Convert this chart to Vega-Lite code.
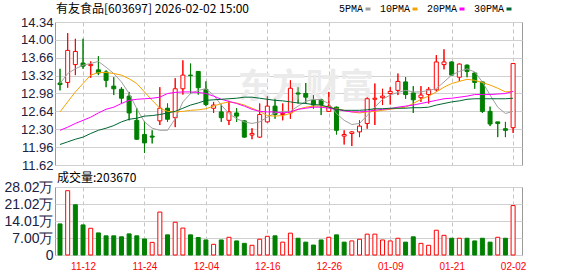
{
  "$schema": "https://vega.github.io/schema/vega-lite/v6.json",
  "autosize": {"type": "none"},
  "padding": {"left": 55, "top": 22, "right": 523, "bottom": 254},
  "background": "white",
  "data": {"values": [
    {"d":"2025-11-07","o":13.18,"h":13.45,"l":13.04,"c":13.15,"k":"down","v":128000,"vk":"down","ma5":13.17,"ma10":12.63,"ma20":12.28,"ma30":12.01},
    {"d":"2025-11-10","o":13.19,"h":14.13,"l":13.09,"c":13.80,"k":"up","v":265000,"vk":"up","ma5":13.36,"ma10":12.82,"ma20":12.34,"ma30":12.06},
    {"d":"2025-11-11","o":13.53,"h":14.02,"l":13.33,"c":13.78,"k":"up","v":207000,"vk":"down","ma5":13.45,"ma10":13.01,"ma20":12.41,"ma30":12.11},
    {"d":"2025-11-12","o":13.56,"h":14.02,"l":13.45,"c":13.50,"k":"down","v":124000,"vk":"down","ma5":13.52,"ma10":13.17,"ma20":12.47,"ma30":12.15},
    {"d":"2025-11-13","o":13.51,"h":13.59,"l":13.28,"c":13.53,"k":"up","v":110000,"vk":"up","ma5":13.55,"ma10":13.33,"ma20":12.53,"ma30":12.22},
    {"d":"2025-11-14","o":13.43,"h":13.69,"l":13.33,"c":13.37,"k":"down","v":91000,"vk":"down","ma5":13.59,"ma10":13.38,"ma20":12.61,"ma30":12.28},
    {"d":"2025-11-17","o":13.39,"h":13.42,"l":13.10,"c":13.23,"k":"down","v":79000,"vk":"down","ma5":13.48,"ma10":13.38,"ma20":12.68,"ma30":12.32},
    {"d":"2025-11-18","o":13.12,"h":13.29,"l":12.95,"c":13.07,"k":"down","v":79000,"vk":"down","ma5":13.36,"ma10":13.36,"ma20":12.72,"ma30":12.37},
    {"d":"2025-11-19","o":13.06,"h":13.10,"l":12.79,"c":12.89,"k":"down","v":75000,"vk":"down","ma5":13.20,"ma10":13.33,"ma20":12.79,"ma30":12.44},
    {"d":"2025-11-20","o":12.93,"h":13.01,"l":12.47,"c":12.61,"k":"down","v":87000,"vk":"down","ma5":12.98,"ma10":13.26,"ma20":12.85,"ma30":12.49},
    {"d":"2025-11-21","o":12.47,"h":12.70,"l":12.10,"c":12.11,"k":"down","v":79000,"vk":"down","ma5":12.69,"ma10":13.17,"ma20":12.87,"ma30":12.51},
    {"d":"2025-11-24","o":12.20,"h":12.45,"l":11.85,"c":12.04,"k":"down","v":66000,"vk":"down","ma5":12.44,"ma10":13.01,"ma20":12.88,"ma30":12.55},
    {"d":"2025-11-25","o":12.17,"h":12.28,"l":12.03,"c":12.15,"k":"down","v":52000,"vk":"up","ma5":12.32,"ma10":12.85,"ma20":12.89,"ma30":12.56},
    {"d":"2025-11-26","o":12.46,"h":13.10,"l":12.38,"c":12.70,"k":"up","v":177000,"vk":"up","ma5":12.28,"ma10":12.70,"ma20":12.91,"ma30":12.58},
    {"d":"2025-11-27","o":12.70,"h":12.79,"l":12.44,"c":12.49,"k":"down","v":83000,"vk":"down","ma5":12.28,"ma10":12.64,"ma20":12.98,"ma30":12.61},
    {"d":"2025-11-28","o":12.52,"h":13.27,"l":12.34,"c":13.07,"k":"up","v":135000,"vk":"up","ma5":12.50,"ma10":12.63,"ma20":13.00,"ma30":12.64},
    {"d":"2025-12-01","o":13.07,"h":13.61,"l":12.96,"c":13.33,"k":"up","v":111000,"vk":"up","ma5":12.82,"ma10":12.64,"ma20":13.01,"ma30":12.70},
    {"d":"2025-12-02","o":13.33,"h":13.55,"l":12.98,"c":13.32,"k":"down","v":83000,"vk":"down","ma5":12.98,"ma10":12.66,"ma20":13.01,"ma30":12.76},
    {"d":"2025-12-03","o":13.40,"h":13.40,"l":12.96,"c":13.09,"k":"down","v":72000,"vk":"down","ma5":13.04,"ma10":12.67,"ma20":13.00,"ma30":12.80},
    {"d":"2025-12-04","o":13.06,"h":13.21,"l":12.74,"c":12.77,"k":"down","v":62000,"vk":"down","ma5":13.07,"ma10":12.69,"ma20":12.98,"ma30":12.85},
    {"d":"2025-12-05","o":12.70,"h":12.82,"l":12.61,"c":12.76,"k":"up","v":44000,"vk":"up","ma5":12.95,"ma10":12.74,"ma20":12.93,"ma30":12.86},
    {"d":"2025-12-08","o":12.63,"h":12.77,"l":12.44,"c":12.52,"k":"down","v":62000,"vk":"down","ma5":12.76,"ma10":12.79,"ma20":12.87,"ma30":12.87},
    {"d":"2025-12-09","o":12.47,"h":12.84,"l":12.38,"c":12.63,"k":"up","v":73000,"vk":"up","ma5":12.60,"ma10":12.82,"ma20":12.83,"ma30":12.88},
    {"d":"2025-12-10","o":12.61,"h":12.70,"l":12.44,"c":12.55,"k":"down","v":58000,"vk":"down","ma5":12.50,"ma10":12.80,"ma20":12.79,"ma30":12.89},
    {"d":"2025-12-11","o":12.46,"h":12.47,"l":12.14,"c":12.15,"k":"down","v":48000,"vk":"down","ma5":12.44,"ma10":12.76,"ma20":12.74,"ma30":12.91},
    {"d":"2025-12-12","o":12.19,"h":12.32,"l":12.11,"c":12.22,"k":"up","v":40000,"vk":"up","ma5":12.41,"ma10":12.70,"ma20":12.68,"ma30":12.91},
    {"d":"2025-12-15","o":12.15,"h":12.79,"l":12.14,"c":12.58,"k":"up","v":65000,"vk":"up","ma5":12.44,"ma10":12.64,"ma20":12.64,"ma30":12.89},
    {"d":"2025-12-16","o":12.44,"h":12.93,"l":12.43,"c":12.74,"k":"up","v":77000,"vk":"up","ma5":12.53,"ma10":12.56,"ma20":12.63,"ma30":12.87},
    {"d":"2025-12-17","o":12.74,"h":12.88,"l":12.50,"c":12.58,"k":"down","v":79000,"vk":"down","ma5":12.61,"ma10":12.55,"ma20":12.63,"ma30":12.85},
    {"d":"2025-12-18","o":12.58,"h":12.79,"l":12.47,"c":12.60,"k":"up","v":53000,"vk":"up","ma5":12.64,"ma10":12.56,"ma20":12.61,"ma30":12.84},
    {"d":"2025-12-19","o":12.61,"h":13.23,"l":12.50,"c":13.08,"k":"up","v":90000,"vk":"up","ma5":12.64,"ma10":12.60,"ma20":12.63,"ma30":12.82},
    {"d":"2025-12-22","o":12.99,"h":13.10,"l":12.79,"c":12.97,"k":"down","v":69000,"vk":"down","ma5":12.74,"ma10":12.68,"ma20":12.68,"ma30":12.80},
    {"d":"2025-12-23","o":12.98,"h":13.18,"l":12.79,"c":12.91,"k":"down","v":53000,"vk":"down","ma5":12.83,"ma10":12.72,"ma20":12.70,"ma30":12.79},
    {"d":"2025-12-24","o":12.85,"h":12.95,"l":12.69,"c":12.76,"k":"down","v":41000,"vk":"down","ma5":12.87,"ma10":12.74,"ma20":12.72,"ma30":12.77},
    {"d":"2025-12-25","o":12.86,"h":12.88,"l":12.57,"c":12.77,"k":"down","v":62000,"vk":"down","ma5":12.86,"ma10":12.74,"ma20":12.72,"ma30":12.76},
    {"d":"2025-12-26","o":12.64,"h":13.01,"l":12.63,"c":12.74,"k":"up","v":73000,"vk":"up","ma5":12.79,"ma10":12.72,"ma20":12.70,"ma30":12.72},
    {"d":"2025-12-29","o":12.72,"h":12.73,"l":12.20,"c":12.28,"k":"down","v":83000,"vk":"down","ma5":12.60,"ma10":12.69,"ma20":12.68,"ma30":12.68},
    {"d":"2025-12-30","o":12.17,"h":12.28,"l":12.01,"c":12.20,"k":"up","v":53000,"vk":"down","ma5":12.47,"ma10":12.66,"ma20":12.65,"ma30":12.66},
    {"d":"2025-12-31","o":12.22,"h":12.26,"l":11.98,"c":12.25,"k":"up","v":58000,"vk":"up","ma5":12.39,"ma10":12.63,"ma20":12.63,"ma30":12.66},
    {"d":"2026-01-05","o":12.25,"h":12.47,"l":12.15,"c":12.36,"k":"up","v":65000,"vk":"up","ma5":12.41,"ma10":12.61,"ma20":12.63,"ma30":12.66},
    {"d":"2026-01-06","o":12.41,"h":12.91,"l":12.31,"c":12.88,"k":"up","v":86000,"vk":"up","ma5":12.56,"ma10":12.63,"ma20":12.64,"ma30":12.67},
    {"d":"2026-01-07","o":12.87,"h":13.17,"l":12.38,"c":12.89,"k":"up","v":86000,"vk":"up","ma5":12.72,"ma10":12.64,"ma20":12.66,"ma30":12.69},
    {"d":"2026-01-08","o":12.90,"h":13.07,"l":12.76,"c":12.93,"k":"up","v":62000,"vk":"up","ma5":12.87,"ma10":12.66,"ma20":12.68,"ma30":12.69},
    {"d":"2026-01-09","o":12.98,"h":13.10,"l":12.77,"c":13.02,"k":"up","v":58000,"vk":"up","ma5":12.95,"ma10":12.68,"ma20":12.69,"ma30":12.70},
    {"d":"2026-01-12","o":13.04,"h":13.36,"l":12.95,"c":13.21,"k":"up","v":69000,"vk":"up","ma5":13.00,"ma10":12.70,"ma20":12.72,"ma30":12.70},
    {"d":"2026-01-13","o":13.20,"h":13.29,"l":12.88,"c":12.96,"k":"down","v":53000,"vk":"down","ma5":13.04,"ma10":12.72,"ma20":12.74,"ma30":12.70},
    {"d":"2026-01-14","o":12.99,"h":13.12,"l":12.61,"c":12.86,"k":"down","v":75000,"vk":"down","ma5":13.01,"ma10":12.79,"ma20":12.76,"ma30":12.71},
    {"d":"2026-01-15","o":12.90,"h":13.12,"l":12.82,"c":12.95,"k":"up","v":48000,"vk":"up","ma5":13.01,"ma10":12.87,"ma20":12.79,"ma30":12.71},
    {"d":"2026-01-16","o":12.96,"h":13.10,"l":12.79,"c":13.06,"k":"up","v":40000,"vk":"up","ma5":13.04,"ma10":12.93,"ma20":12.82,"ma30":12.72},
    {"d":"2026-01-19","o":13.05,"h":13.71,"l":13.02,"c":13.58,"k":"up","v":102000,"vk":"up","ma5":13.07,"ma10":13.01,"ma20":12.85,"ma30":12.76},
    {"d":"2026-01-20","o":13.53,"h":13.82,"l":13.44,"c":13.58,"k":"up","v":81000,"vk":"up","ma5":13.20,"ma10":13.10,"ma20":12.88,"ma30":12.79},
    {"d":"2026-01-21","o":13.58,"h":13.59,"l":13.32,"c":13.33,"k":"down","v":69000,"vk":"down","ma5":13.33,"ma10":13.17,"ma20":12.89,"ma30":12.82},
    {"d":"2026-01-22","o":13.29,"h":13.55,"l":13.22,"c":13.54,"k":"up","v":69000,"vk":"up","ma5":13.40,"ma10":13.21,"ma20":12.91,"ma30":12.84},
    {"d":"2026-01-23","o":13.52,"h":13.53,"l":13.29,"c":13.40,"k":"down","v":69000,"vk":"down","ma5":13.45,"ma10":13.25,"ma20":12.93,"ma30":12.87},
    {"d":"2026-01-26","o":13.37,"h":13.39,"l":13.07,"c":13.19,"k":"down","v":58000,"vk":"down","ma5":13.39,"ma10":13.23,"ma20":12.96,"ma30":12.88},
    {"d":"2026-01-27","o":13.20,"h":13.21,"l":12.61,"c":12.64,"k":"down","v":69000,"vk":"down","ma5":13.20,"ma10":13.19,"ma20":12.96,"ma30":12.88},
    {"d":"2026-01-28","o":12.64,"h":12.73,"l":12.36,"c":12.40,"k":"down","v":53000,"vk":"down","ma5":12.95,"ma10":13.14,"ma20":12.96,"ma30":12.88},
    {"d":"2026-01-29","o":12.44,"h":12.44,"l":12.15,"c":12.41,"k":"down","v":73000,"vk":"up","ma5":12.72,"ma10":13.08,"ma20":12.97,"ma30":12.88},
    {"d":"2026-01-30","o":12.31,"h":12.44,"l":12.15,"c":12.28,"k":"down","v":69000,"vk":"down","ma5":12.60,"ma10":13.01,"ma20":12.98,"ma30":12.88},
    {"d":"2026-02-02","o":12.33,"h":13.56,"l":12.23,"c":13.55,"k":"up","v":203670,"vk":"up","ma5":12.64,"ma10":13.02,"ma20":13.02,"ma30":12.89}
  ]},
  "spacing": 22,
  "bounds": "flush",
  "vconcat": [
    {
      "width": 467,
      "height": 143,
      "title": {"text": "有友食品[603697] 2026-02-02 15:00", "anchor": "start", "frame": "group", "offset": 0, "dx": 1, "font": "Noto Sans CJK SC", "fontSize": 12, "fontWeight": "normal", "color": "#000000"},
      "encoding": {
        "x": {"field": "d", "type": "ordinal", "sort": null,
              "scale": {"type": "point", "padding": 0.905, "align": 0.36},
              "axis": {"values": ["2025-11-12","2025-11-24","2025-12-04","2025-12-16","2025-12-26","2026-01-09","2026-01-21","2026-02-02"],
                       "labels": false, "ticks": false, "domain": false, "grid": true, "gridDash": [4, 3], "gridColor": "#c4c4c4", "title": null}}
      },
      "layer": [
        {
          "mark": {"type": "rule", "strokeWidth": 1},
          "encoding": {
            "y": {"field": "l", "type": "quantitative",
                  "scale": {"domain": [11.62, 14.34], "nice": false, "zero": false},
                  "axis": {"values": [11.62, 11.96, 12.30, 12.64, 12.98, 13.32, 13.66, 14.00, 14.34], "format": ".2f", "tickCount": 20,
                           "title": null, "grid": true, "gridColor": "#d0d0d0", "ticks": false, "tickSize": 0, "domain": false,
                           "labelOverlap": false, "labelPadding": 2, "labelFont": "Liberation Sans", "labelFontSize": 13, "labelColor": "#202040"}},
            "y2": {"field": "h"},
            "stroke": {"field": "k", "type": "nominal", "scale": {"domain": ["up", "down"], "range": ["#ff0000", "#008000"]}, "legend": null}
          }
        },
        {
          "transform": [{"filter": "datum.d == '2025-12-23'"}],
          "mark": {"type": "text", "text": "东方财富", "font": "Noto Sans CJK SC", "fontSize": 34, "fontWeight": "bold", "color": "#ebebeb", "align": "center", "baseline": "middle"},
          "encoding": {"y": {"datum": 13.08, "type": "quantitative"}}
        },
        {
          "mark": {"type": "rule", "strokeWidth": 1},
          "encoding": {
            "y": {"field": "l", "type": "quantitative", "axis": {"title": null}},
            "y2": {"field": "h"},
            "stroke": {"field": "k", "type": "nominal", "scale": {"domain": ["up", "down"], "range": ["#ff0000", "#008000"]}, "legend": null}
          }
        },
        {
          "mark": {"type": "bar", "width": 4, "strokeWidth": 1},
          "encoding": {
            "y": {"field": "o", "type": "quantitative", "axis": {"title": null}},
            "y2": {"field": "c"},
            "fill": {"field": "k", "type": "nominal", "scale": {"domain": ["up", "down"], "range": ["#ffffff", "#008000"]}, "legend": null},
            "stroke": {"field": "k", "type": "nominal", "scale": {"domain": ["up", "down"], "range": ["#ff0000", "#008000"]}, "legend": null}
          }
        },
        {
          "transform": [{"fold": ["ma5", "ma10", "ma20", "ma30"], "as": ["ma", "val"]}],
          "mark": {"type": "line", "strokeWidth": 1},
          "encoding": {
            "y": {"field": "val", "type": "quantitative", "axis": {"title": null}},
            "color": {"field": "ma", "type": "nominal",
                      "scale": {"domain": ["ma5", "ma10", "ma20", "ma30"], "range": ["#a0a0a0", "#f5a300", "#ff00ff", "#006633"]},
                      "legend": {"orient": "none", "legendX": 308, "legendY": -18, "direction": "horizontal", "title": null,
                                 "symbolType": "stroke", "symbolSize": 25, "symbolStrokeWidth": 3,
                                 "labelAlign": "right", "labelOffset": -10, "labelFont": "Liberation Mono", "labelFontSize": 10,
                                 "labelColor": "#000000", "columnPadding": 2, "padding": 0,
                                 "labelExpr": "replace(datum.label, 'ma', '') + 'PMA'"}}
          }
        }
      ]
    },
    {
      "width": 467,
      "height": 68,
      "title": {"text": "成交量:203670", "anchor": "start", "frame": "group", "offset": -5, "dx": 2, "font": "Noto Sans CJK SC", "fontSize": 12, "fontWeight": "normal", "color": "#000000"},
      "mark": {"type": "bar", "width": 4, "strokeWidth": 1},
      "encoding": {
        "x": {"field": "d", "type": "ordinal", "sort": null,
              "scale": {"type": "point", "padding": 0.905, "align": 0.36},
              "axis": {"values": ["2025-11-12","2025-11-24","2025-12-04","2025-12-16","2025-12-26","2026-01-09","2026-01-21","2026-02-02"],
                       "labelExpr": "substring(datum.label, 5)", "labelColor": "#ff0000", "labelFont": "Liberation Sans", "labelFontSize": 10,
                       "labelAngle": 0, "labelPadding": 6, "ticks": false, "tickSize": 0, "domain": false, "grid": true, "gridDash": [4, 3], "gridColor": "#c4c4c4", "title": null}},
        "y": {"field": "v", "type": "quantitative",
              "scale": {"domain": [0, 280200], "nice": false},
              "axis": {"values": [0, 70050, 140100, 210150, 280200], "tickCount": 20,
                       "labelExpr": "datum.value == 0 ? '0' : format(datum.value / 10000, '.2f') + '万'",
                       "title": null, "grid": true, "gridColor": "#d0d0d0", "ticks": false, "tickSize": 0, "domain": false,
                       "labelOverlap": false, "labelPadding": 2, "labelFont": "Liberation Sans", "labelFontSize": 14, "labelColor": "#202040"}},
        "fill": {"field": "vk", "type": "nominal", "scale": {"domain": ["up", "down"], "range": ["#ffffff", "#008000"]}, "legend": null},
        "stroke": {"field": "vk", "type": "nominal", "scale": {"domain": ["up", "down"], "range": ["#ff0000", "#008000"]}, "legend": null}
      }
    }
  ],
  "config": {
    "view": {"stroke": "#999999", "strokeWidth": 1},
    "axis": {"labelOverlap": false}
  }
}
